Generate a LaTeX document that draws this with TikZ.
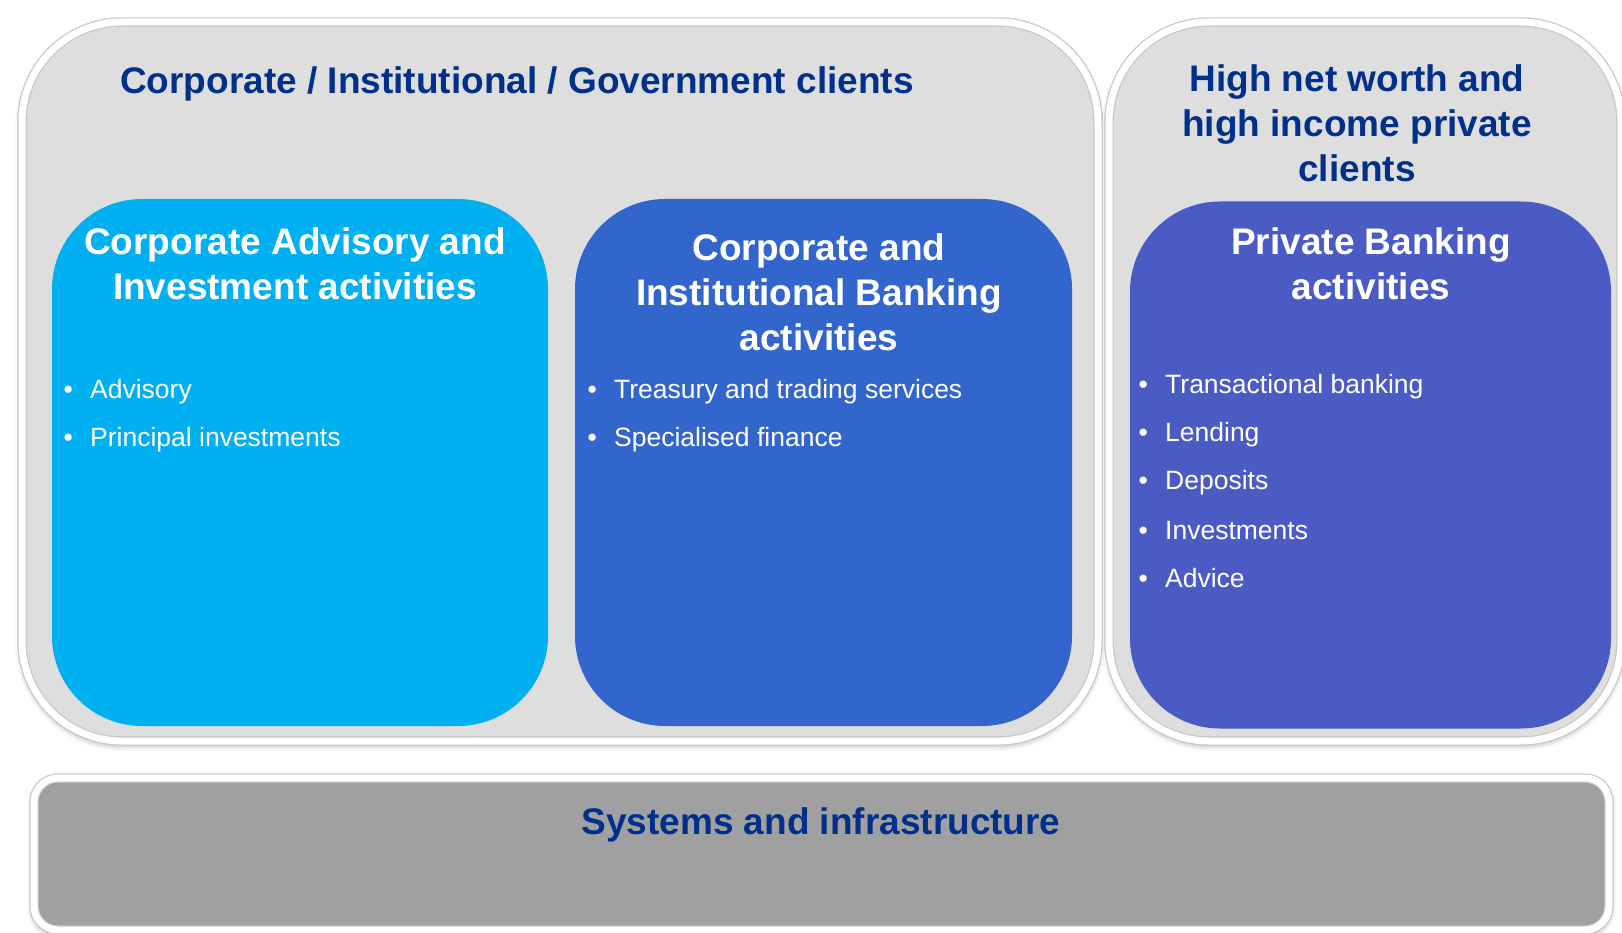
\documentclass[tikz,border=0pt]{standalone}
\usepackage{fontspec}
\setmainfont{Liberation Sans}
\usetikzlibrary{positioning}
\usetikzlibrary{shadows.blur}

\definecolor{panelgray}{HTML}{DEDEDE}
\definecolor{bargray}{HTML}{A0A0A0}
\definecolor{titleblue}{HTML}{00308A}
\definecolor{advisoryblue}{HTML}{00B0F0}
\definecolor{bankingblue}{HTML}{3366CC}
\definecolor{privateblue}{HTML}{4A5CC4}

\begin{document}
\begin{tikzpicture}[x=1pt,y=-1pt,
		panel/.style={draw=black!22, line width=1.2pt, double=white, double distance=7pt,
			fill=panelgray, rounded corners=100pt, inner sep=0pt,
			blur shadow={shadow xshift=0pt, shadow yshift=-3pt,
			shadow blur radius=7pt, shadow opacity=45}},
		activity/.style={fill=#1, rounded corners=90pt, inner sep=0pt,
			minimum height=527pt},
		heading/.style={text=titleblue, align=center,
			font=\fontsize{37}{45}\selectfont\bfseries},
		boxtitle/.style={heading, text=white},
		item/.style={text=white, anchor=west, inner sep=0pt,
			font=\fontsize{26.5}{30}\selectfont}]
	\useasboundingbox (0,0) rectangle (1622,933);

	% client groups
	\node[panel, minimum width=1076pt, minimum height=719pt] (corporate) at (560,381.5) {};
	\node[panel, minimum width=512pt, minimum height=719pt] (private) at (1365,381.5) {};
	\node[panel, fill=bargray, rounded corners=24pt,
		minimum width=1575pt, minimum height=152pt] (systems) at (821.5,854) {};

	% activities
	\node[activity=advisoryblue, minimum width=496pt] (advisory) at (300,462.5) {};
	\node[activity=bankingblue, minimum width=497pt] (banking) at (823.5,462.5) {};
	\node[activity=privateblue, minimum width=481pt] (privbank) at (1370.5,465) {};

	% headings
	\node[heading] (corporate-title) at (517,84) {Corporate / Institutional / Government clients};
	\node[heading] (private-title) at (1357,123) {High net worth and\\high income private\\clients};
	\node[heading] (systems-title) at (821,825) {Systems and infrastructure};
	\node[boxtitle] (advisory-title) at (295,263.5) {Corporate Advisory and\\Investment activities};
	\node[boxtitle] (banking-title) at (819,292) {Corporate and\\Institutional Banking\\activities};
	\node[boxtitle] (privbank-title) at (1371,263.5) {Private Banking\\activities};

	% bullet lists
	\foreach \txt [count=\i] in {Advisory, Principal investments}
		\node[item] (advisory-\i) at (63.4,{392+48*(\i-1)}) {\makebox[26.6pt][l]{•}\txt};
	\foreach \txt [count=\i] in {Treasury and trading services, Specialised finance}
		\node[item] (banking-\i) at (587.4,{392+48*(\i-1)}) {\makebox[26.6pt][l]{•}\txt};
	\foreach \txt [count=\i] in {Transactional banking, Lending, Deposits, Investments, Advice}
		\node[item] (privbank-\i) at (1138.4,{387+47.8*(\i-1)}) {\makebox[26.6pt][l]{•}\txt};
\end{tikzpicture}
\end{document}
